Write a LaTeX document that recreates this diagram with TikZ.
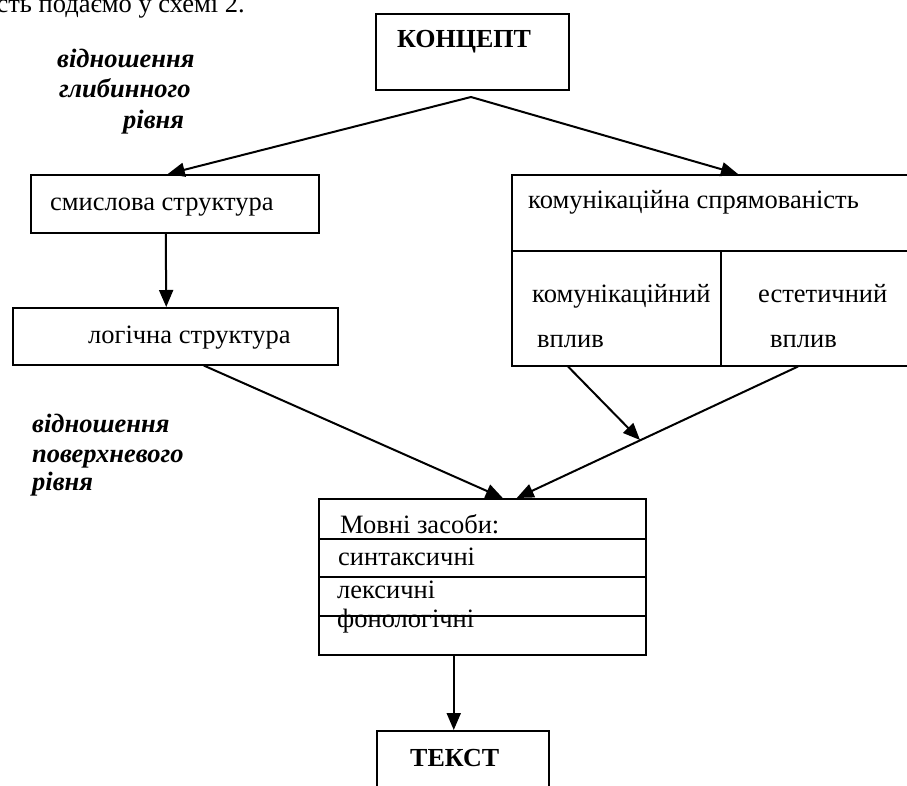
\documentclass[tikz,border=0pt]{standalone}
\usepackage{fontspec}
\setmainfont{Liberation Serif}
\usetikzlibrary{arrows.meta,calc}
\begin{document}
\begin{tikzpicture}[x=1pt,y=-1pt,
  box/.style={draw, line width=1.5pt, rectangle, inner sep=0pt, anchor=north west},
  lbl/.style={anchor=base west, inner sep=0pt, font=\fontsize{26.5}{30}\selectfont},
  bld/.style={anchor=base west, inner sep=0pt, font=\fontsize{26}{30}\selectfont\bfseries},
  itl/.style={anchor=base west, inner sep=0pt, font=\fontsize{26.5}{30}\selectfont\bfseries\itshape},
  arr/.style={line width=2pt, -{Triangle[length=17pt,width=14pt]}},
  sep/.style={line width=1.5pt}]
\useasboundingbox (0,0) rectangle (907,785);
\clip (0,0) rectangle (907,785);

% cut-off line of the page text
\node[lbl, anchor=base east] (toptext) at (245,12.5) {сть подаємо у схемі 2.};

% boxes
\node[box, minimum width=193pt, minimum height=76pt] (konc) at (375,13) {};
\node[box, minimum width=288pt, minimum height=58pt] (smysl) at (30,174) {};
\node[box, minimum width=325pt, minimum height=57pt] (logic) at (12,307) {};
\node[box, minimum width=410pt, minimum height=191pt] (kom) at (511,174) {};
\node[box, minimum width=327pt, minimum height=156pt] (movni) at (318,498) {};
\node[box, minimum width=172pt, minimum height=80pt] (tekst) at (376,730) {};

% inner lines
\draw[sep] (kom.west |- 0,251) -- (kom.east |- 0,251);
\draw[sep] (721,251) -- (kom.south -| 721,0);
\draw[sep] (movni.west |- 0,539) -- (movni.east |- 0,539);
\draw[sep] (movni.west |- 0,577) -- (movni.east |- 0,577);
\draw[sep] (movni.west |- 0,616) -- (movni.east |- 0,616);

% texts
\node[bld] (tkonc) at (397,47) {КОНЦЕПТ};
\node[lbl] (tsmysl) at (50,210) {смислова структура};
\node[lbl] (tlogic) at (88,343) {логічна структура};
\node[lbl] (tkom) at (528,208) {комунікаційна спрямованість};
\node[lbl] (tkv1) at (532,302) {комунікаційний};
\node[lbl] (tkv2) at (537,347) {вплив};
\node[lbl] (tes1) at (758,302) {естетичний};
\node[lbl] (tes2) at (770,347) {вплив};
\node[lbl] (tm1) at (340,533) {Мовні засоби:};
\node[lbl] (tm2) at (338,565) {синтаксичні};
\node[lbl] (tm3) at (337,598) {лексичні};
\node[lbl] (tm4) at (337,627) {фонологічні};
\node[bld] (ttekst) at (410,766) {ТЕКСТ};

\node[itl] (g1) at (57,67) {відношення};
\node[itl] (g2) at (59,97) {глибинного};
\node[itl] (g3) at (123,128) {рівня};
\node[itl] (p1) at (32,432) {відношення};
\node[itl] (p2) at (32,462) {поверхневого};
\node[itl] (p3) at (32,490) {рівня};

% connectors
\coordinate (apex) at (471,97);
\coordinate (meet) at (640,440);
\draw[arr] (apex) -- ([xshift=-7pt]smysl.north);
\draw[arr] (apex) -- ([xshift=227pt]kom.north west);
\draw[arr] ([xshift=-9pt]smysl.south) -- ([xshift=-9pt]logic.north);
\draw[arr] ([xshift=28.5pt]logic.south) -- ([xshift=20.5pt]movni.north);
\draw[arr] ([xshift=287pt]kom.south west) -- ([xshift=34.5pt]movni.north);
\draw[arr] ([xshift=57pt]kom.south west) -- (meet);
\draw[arr] ([xshift=-28.5pt]movni.south) -- ([xshift=-9pt]tekst.north);
\end{tikzpicture}
\end{document}
